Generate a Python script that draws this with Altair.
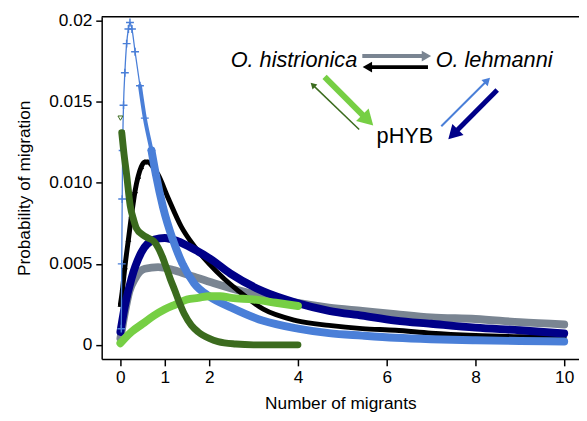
import math
import altair as alt
import pandas as pd

# ---------------- values ----------------
# light blue (+ markers)
lb_x = [0.02, 0.03, 0.04, 0.05, 0.07, 0.10, 0.14, 0.18, 0.215, 0.26, 0.33, 0.44, 0.55, 0.70,
        0.80, 0.96, 1.18, 1.40, 1.66, 2.0, 2.5, 3.2, 4.0, 4.7, 5.45, 6.2, 7.0, 8.0, 9.0, 10.0]
lb_y = [0.0010, 0.0050, 0.0090, 0.0120, 0.0148, 0.0168, 0.0186, 0.0195, 0.0199, 0.0195, 0.0181,
        0.0160, 0.0140, 0.0120, 0.0105, 0.0085, 0.0065, 0.0050, 0.0038, 0.0030, 0.0023, 0.0015,
        0.0010, 0.00072, 0.00057, 0.00044, 0.00035, 0.00028, 0.00024, 0.00021]
# black (triangle markers)
bk_x = [0.0, 0.05, 0.10, 0.18, 0.25, 0.33, 0.40, 0.47, 0.55, 0.62, 0.70, 0.85, 1.07, 1.37, 1.66,
        2.0, 2.33, 2.63, 3.22, 3.96, 4.7, 5.45, 6.2, 7.0, 8.0, 9.0, 10.0]
bk_y = [0.0025, 0.0035, 0.0048, 0.0065, 0.0080, 0.0095, 0.0104, 0.0110, 0.0113, 0.0113, 0.0111,
        0.0105, 0.0091, 0.0073, 0.0061, 0.0050, 0.0041, 0.0034, 0.0022, 0.0015, 0.0012, 0.0010,
        0.0009, 0.00072, 0.00058, 0.00050, 0.00045]
# navy
nv_x = [0.0, 0.10, 0.25, 0.47, 0.77, 1.0, 1.29, 1.66, 2.03, 2.48, 3.22, 3.96, 4.7, 5.45, 6.2,
        7.0, 8.0, 9.0, 10.0]
nv_y = [0.0008, 0.0024, 0.0041, 0.0057, 0.0065, 0.0066, 0.0064, 0.0059, 0.0053, 0.0044, 0.0033,
        0.0026, 0.0021, 0.0018, 0.0015, 0.0013, 0.00106, 0.0009, 0.0007]
# grey
gr_x = [0.0, 0.10, 0.20, 0.33, 0.55, 0.85, 1.22, 1.66, 2.11, 2.48, 3.2, 3.96, 4.7, 5.45, 6.2,
        7.0, 8.0, 9.0, 10.0]
gr_y = [0.0004, 0.0020, 0.0033, 0.0041, 0.0047, 0.0048, 0.0046, 0.0042, 0.0038, 0.0035, 0.0030,
        0.0026, 0.0023, 0.0021, 0.0019, 0.0017, 0.0016, 0.0014, 0.00126]
# light green
lg_x = [0.0, 0.10, 0.25, 0.50, 0.75, 1.0, 1.25, 1.5, 1.75, 2.0, 2.25, 2.5, 3.0, 3.5, 4.0]
lg_y = [0.0001, 0.0004, 0.0008, 0.0013, 0.0018, 0.0022, 0.0025, 0.0028, 0.0029, 0.0030, 0.0030,
        0.0029, 0.0028, 0.0026, 0.0024]
# dark green (inverted triangle markers at start)
dg_x = [0.0, 0.03, 0.08, 0.14, 0.22, 0.30, 0.36, 0.50, 0.62, 0.75, 0.85, 0.95, 1.03, 1.12, 1.22,
        1.33, 1.44, 1.60, 1.75, 2.0, 2.2, 2.6, 3.0, 3.5, 4.0]
dg_y = [0.0140, 0.0131, 0.0118, 0.0105, 0.0086, 0.0077, 0.0072, 0.0068, 0.0066, 0.0064, 0.0060,
        0.0054, 0.0048, 0.0041, 0.0034, 0.0026, 0.0019, 0.0012, 0.0008, 0.0004, 0.0002, 0.00005,
        0.0, 0.0, 0.0]

# diagram labels and arrows (data coordinates)
lab_text = ["O. histrionica", "O. lehmanni", "pHYB"]
lab_x = [3.91, 8.42, 6.41]
lab_y = [0.01761, 0.01761, 0.01289]
lab_italic = [True, True, False]

arr_name = ["grey", "black", "lgreen", "dgreen", "lblue", "navy"]
arr_x1 = [5.45, 6.93, 4.60, 5.38, 7.23, 8.49]
arr_y1 = [0.01783, 0.01715, 0.01655, 0.01330, 0.01350, 0.01574]
arr_x2 = [6.97, 5.49, 5.66, 4.30, 8.31, 7.42]
arr_y2 = [0.01783, 0.01715, 0.01364, 0.01614, 0.01645, 0.01279]

# ---------------- styling ----------------
COL = {"lblue": "#4a7fd8", "black": "#000000", "navy": "#000088", "grey": "#7a8592",
       "lgreen": "#76cf44", "dgreen": "#3b6b1e"}
ARROW_W = {"grey": 4, "black": 4, "lgreen": 6, "dgreen": 1.5, "lblue": 2, "navy": 5}
HEAD = {"grey": 11, "black": 11, "lgreen": 18, "dgreen": 7, "lblue": 9, "navy": 16}

FONT = "Liberation Sans"
XMIN, XMAX = -0.4222, 10.333
YMIN, YMAX = -0.00087, 0.02026
W, H = 484, 347
KX = W / (XMAX - XMIN)
KY = H / (YMAX - YMIN)

xscale = alt.Scale(domain=[XMIN, XMAX], nice=False, zero=False)
yscale = alt.Scale(domain=[YMIN, YMAX], nice=False, zero=False)
AX = dict(grid=False, labelFont=FONT, labelFontSize=17.5, labelColor="black",
          titleFont=FONT, titleFontSize=17.5, titleFontWeight="normal", titleColor="black",
          domainColor="black", domainWidth=1.5, tickColor="black", tickWidth=1.5)
xaxis = alt.Axis(values=[0, 1, 2, 4, 6, 8, 10], title="Number of migrants",
                 tickSize=7, labelPadding=3, titlePadding=9, **AX)
yaxis = alt.Axis(values=[0, 0.005, 0.01, 0.015, 0.02], title="Probability of migration",
                 tickSize=6, labelPadding=4, titlePadding=15,
                 labelExpr="datum.value == 0 ? '0' : (datum.value > 0.019 ? '0.02' : format(datum.value, '.3f'))",
                 **AX)


def enc(ch):
    return ch.encode(x=alt.X("x:Q", scale=xscale, axis=xaxis),
                     y=alt.Y("y:Q", scale=yscale, axis=yaxis))


def df_of(xs, ys):
    return pd.DataFrame({"x": xs, "y": ys})


def band(xs, ys, color, width, cond=None):
    d = df_of(xs, ys)
    if cond is not None:
        d = d[cond(d)]
    return enc(alt.Chart(d).mark_line(color=color, strokeWidth=width, interpolate="monotone",
                                      strokeCap="round", strokeJoin="round"))


def markers(xs, ys, color, shape, size, cond=None, sw=1.2):
    d = df_of(xs, ys)
    if cond is not None:
        d = d[cond(d)]
    return enc(alt.Chart(d).mark_point(color=color, shape=shape, size=size, filled=False,
                                       strokeWidth=sw, opacity=1))


CROSS = "M-1,0L1,0M0,-1L0,1"

layers = [
    band(gr_x, gr_y, COL["grey"], 8),
    band(bk_x, bk_y, COL["black"], 5),
    markers(bk_x, bk_y, COL["black"], "triangle-up", 22, cond=lambda d: d.x < 0.7, sw=1),
    band(nv_x, nv_y, COL["navy"], 8),
    band(lb_x, lb_y, COL["lblue"], 1.3),
    band(lb_x, lb_y, COL["lblue"], 4, cond=lambda d: (d.x >= 0.44) & (d.x <= 0.80)),
    band(lb_x, lb_y, COL["lblue"], 8, cond=lambda d: d.x >= 0.70),
    markers(lb_x, lb_y, COL["lblue"], CROSS, 64, cond=lambda d: d.x < 1.5, sw=1.5),
    band(lg_x, lg_y, COL["lgreen"], 8),
    band(dg_x, dg_y, COL["dgreen"], 7, cond=lambda d: d.x >= 0.03),
    markers(dg_x, dg_y, COL["dgreen"], "triangle-down", 25, cond=lambda d: d.x < 0.1, sw=1),
]

# arrows: shaft + triangular head
rows = []
for n, x1, y1, x2, y2 in zip(arr_name, arr_x1, arr_y1, arr_x2, arr_y2):
    dxp = (x2 - x1) * KX
    dyp = -(y2 - y1) * KY
    L = math.hypot(dxp, dyp)
    ux, uy = dxp / L, dyp / L
    back = HEAD[n] * 0.45
    hx = x2 - ux * back / KX
    hy = y2 + uy * back / KY
    ang = math.degrees(math.atan2(dxp, -dyp)) % 360
    rows.append({"name": n, "x": x1, "y": y1, "xe": hx, "ye": hy, "hx": hx, "hy": hy,
                 "ang": ang, "w": ARROW_W[n], "hs": HEAD[n] ** 2})
arr_df = pd.DataFrame(rows)
cscale = alt.Scale(domain=list(COL.keys()), range=list(COL.values()))

shaft = alt.Chart(arr_df).mark_rule(strokeCap="butt").encode(
    x=alt.X("x:Q", scale=xscale, axis=xaxis), y=alt.Y("y:Q", scale=yscale, axis=yaxis),
    x2="xe:Q", y2="ye:Q",
    color=alt.Color("name:N", scale=cscale, legend=None),
    strokeWidth=alt.StrokeWidth("w:Q", scale=None))
head = alt.Chart(arr_df).mark_point(shape="triangle", filled=True, opacity=1).encode(
    x=alt.X("hx:Q", scale=xscale, axis=xaxis), y=alt.Y("hy:Q", scale=yscale, axis=yaxis),
    color=alt.Color("name:N", scale=cscale, legend=None),
    angle=alt.Angle("ang:Q", scale=None),
    size=alt.Size("hs:Q", scale=None))

lab_df = pd.DataFrame({"x": lab_x, "y": lab_y, "t": lab_text, "it": lab_italic})
txt_it = enc(alt.Chart(lab_df[lab_df.it]).mark_text(font=FONT, fontSize=22, fontStyle="italic",
                                                   color="black", baseline="middle")).encode(text="t:N")
txt_n = enc(alt.Chart(lab_df[~lab_df.it]).mark_text(font=FONT, fontSize=22, color="black",
                                                   baseline="middle")).encode(text="t:N")

frame_top = alt.Chart(pd.DataFrame({"a": [0]})).mark_rule(color="black", strokeWidth=1.5).encode(
    x=alt.value(0), x2=alt.value(W), y=alt.value(0))

chart = alt.layer(*layers, shaft, head, txt_it, txt_n, frame_top).properties(
    width=W, height=H,
    autosize=alt.AutoSizeParams(type="none"),
    padding={"left": 95, "top": 6, "right": 0, "bottom": 55},
).configure_view(stroke=None)

chart.save("out.html", embed_options={"renderer": "svg", "actions": False})
